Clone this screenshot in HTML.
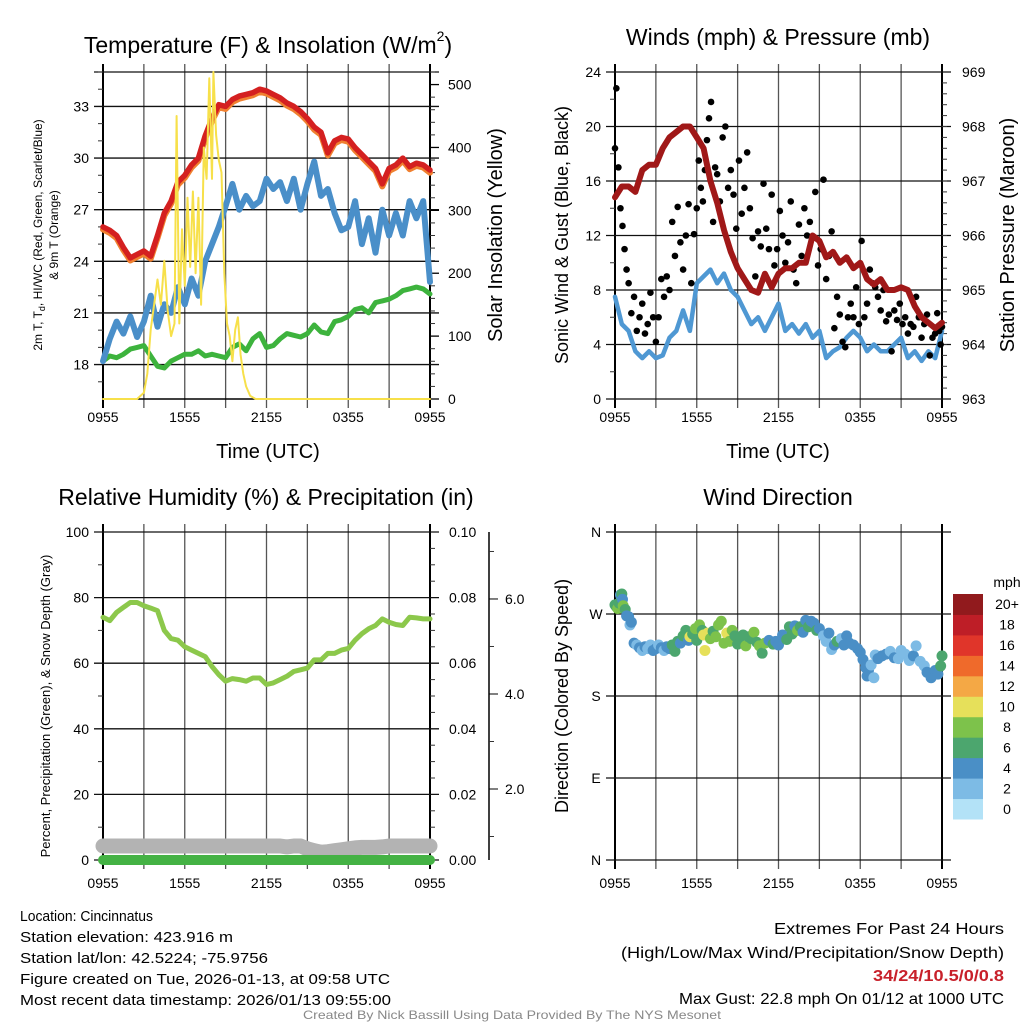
<!DOCTYPE html>
<html><head><meta charset="utf-8"><style>
html,body{margin:0;padding:0;background:#fff;}
svg{display:block;font-family:"Liberation Sans",sans-serif;}
</style></head><body>
<svg id="c" width="1024" height="1024" viewBox="0 0 1024 1024" xmlns="http://www.w3.org/2000/svg"></svg>
<script>
// ---------- DATA ----------
const hours = [0,0.5,1,1.5,2,2.5,3,3.5,4,4.5,5,5.5,6,6.5,7,7.5,8,8.5,9,9.5,10,10.5,11,11.5,12,12.5,13,13.5,14,14.5,15,15.5,16,16.5,17,17.5,18,18.5,19,19.5,20,20.5,21,21.5,22,22.5,23,23.5,24];
const tempRed = [26.0,25.8,25.5,24.8,24.2,24.4,24.6,24.3,25.5,26.8,27.5,28.6,29.0,29.6,30.0,31.3,32.3,33.1,33.0,33.4,33.6,33.7,33.8,34.0,33.9,33.7,33.5,33.2,33.0,32.7,32.3,31.8,31.5,30.3,31.0,31.2,31.1,30.6,30.2,29.8,29.4,28.5,29.4,29.6,30.0,29.5,29.7,29.6,29.3];
const tempBlue = [18.2,19.5,20.5,19.8,20.8,19.6,20.5,22.0,20.2,21.5,21.0,22.5,21.5,23.0,22.0,24.0,25.0,26.0,27.2,28.5,27.0,27.8,27.2,27.5,28.8,28.2,28.6,27.5,28.8,27.0,28.5,29.8,27.8,28.2,26.8,25.8,26.0,27.5,25.0,26.5,24.5,27.0,25.5,26.8,25.5,27.5,26.5,27.5,22.8];
const dewGreen = [18.2,18.5,18.4,18.6,18.9,19.0,19.1,18.5,17.9,17.8,18.2,18.4,18.6,18.6,18.8,18.5,18.6,18.5,18.4,19.0,19.2,18.8,19.5,19.8,19.0,19.1,19.5,19.8,19.7,19.6,19.8,20.3,19.9,19.8,20.5,20.6,20.8,21.2,21.3,21.0,21.6,21.7,21.8,22.0,22.3,22.4,22.5,22.4,22.1];
const solarTimes = [0,2.5,3.0,3.25,3.5,3.75,4.0,4.25,4.5,4.75,5.0,5.25,5.4,5.6,5.8,6.0,6.2,6.4,6.6,6.8,7.0,7.2,7.4,7.6,7.8,8.0,8.1,8.3,8.5,8.7,8.9,9.1,9.3,9.5,9.7,9.9,10.1,10.3,10.5,10.8,11.2,24];
const solarVals = [0,0,10,40,110,150,190,150,220,140,100,120,450,120,270,180,320,210,330,200,320,150,400,350,510,350,520,420,380,360,200,120,100,60,110,130,70,40,20,5,0,0];
const pressure = [966.7,966.9,966.9,966.8,967.2,967.3,967.3,967.6,967.8,967.9,968.0,968.0,967.8,967.6,967.0,966.6,966.1,965.7,965.4,965.2,965.0,964.95,965.3,965.05,965.3,965.4,965.4,965.5,965.5,966.0,965.9,965.6,965.7,965.5,965.6,965.4,965.5,965.2,965.1,965.2,965.0,965.0,965.05,965.0,964.7,964.5,964.4,964.3,964.4];
const sonicWind = [7.5,5.5,5.0,3.5,3.0,3.5,3.0,3.2,4.5,5.0,6.5,5.0,8.5,9.0,9.5,8.5,9.2,8.0,7.5,6.5,5.5,6.0,5.0,6.0,7.0,5.0,5.5,4.8,5.5,4.5,5.0,3.0,3.5,3.8,4.5,5.0,4.5,3.5,4.0,3.5,3.5,4.0,4.5,3.0,3.5,2.8,3.5,3.0,5.0];
const gustT = [0,0.1,0.25,0.4,0.55,0.7,0.85,1.0,1.2,1.4,1.6,1.8,2.0,2.2,2.4,2.6,2.8,3.0,3.2,3.4,3.6,3.8,4.0,4.2,4.4,4.6,4.8,5.0,5.2,5.4,5.6,5.8,6.0,6.15,6.3,6.45,6.6,6.75,6.9,7.05,7.2,7.35,7.5,7.7,7.9,8.1,8.3,8.5,8.7,8.9,9.1,9.3,9.5,9.7,9.9,10.1,10.3,10.5,10.7,10.9,11.1,11.3,11.5,11.7,11.9,12.1,12.3,12.5,12.7,12.9,13.1,13.3,13.5,13.7,13.9,14.1,14.3,14.5,14.7,14.9,15.1,15.3,15.5,15.7,15.9,16.1,16.3,16.5,16.7,16.9,17.1,17.3,17.5,17.7,17.9,18.1,18.3,18.5,18.7,18.9,19.1,19.3,19.5,19.7,19.9,20.1,20.3,20.5,20.7,20.9,21.1,21.3,21.5,21.7,21.9,22.1,22.3,22.5,22.7,22.9,23.1,23.3,23.5,23.65,23.8,23.9,24.0];
const gustV = [18.4,22.8,17.0,14.0,12.7,11.0,9.5,8.5,6.3,7.5,5.0,6.0,7.0,4.8,5.5,7.8,6.0,4.2,6.0,8.8,7.5,9.0,8.0,13.0,10.5,14.1,11.5,9.5,12.0,14.3,8.5,12.1,14.0,17.5,15.5,14.5,16.8,19.0,20.6,21.8,13.0,17.0,16.5,14.5,19.2,20.0,15.5,16.8,15.0,12.5,17.5,13.6,15.5,18.1,14.0,11.8,9.0,12.3,11.2,15.8,12.5,11.0,15.0,9.8,11.0,13.8,12.0,10.0,11.5,14.5,9.5,8.5,12.8,10.5,14.0,12.0,13.0,11.8,15.2,9.8,11.0,16.1,8.8,10.5,12.3,5.2,7.5,6.2,4.2,3.8,6.0,7.0,6.0,8.2,5.5,11.6,6.0,7.0,9.5,8.5,8.2,7.5,6.5,8.0,5.7,6.2,3.5,6.5,5.8,7.0,5.5,6.0,4.8,5.5,5.3,7.5,6.0,4.5,5.5,6.2,3.2,4.5,4.8,6.3,5.0,4.0,5.3,6.5,7.8,8.5,10.7,9.5,10.5];
const rhVals = [74,73,75.5,77,78.5,78.5,77.5,76.8,76,70,67.5,67,65,64,63,62,59,56.5,54.5,55.3,55,54.5,55.5,55.5,53.5,54,55,56,57.5,58,58.5,61,61,63,63,64,64.5,67,69,70.5,71.5,73.5,72.5,71.8,71.5,74,73.8,73.5,73.5];
const snowDepth = [0.8,0.8,0.8,0.8,0.8,0.8,0.8,0.8,0.8,0.8,0.8,0.8,0.8,0.8,0.8,0.8,0.8,0.8,0.8,0.8,0.8,0.8,0.8,0.8,0.8,0.8,0.8,0.78,0.8,0.8,0.74,0.7,0.67,0.68,0.7,0.72,0.74,0.76,0.77,0.77,0.77,0.78,0.8,0.8,0.8,0.8,0.8,0.8,0.8];
const precip = [0,0,0,0,0,0,0,0,0,0,0,0,0,0,0,0,0,0,0,0,0,0,0,0,0,0,0,0,0,0,0,0,0,0,0,0,0,0,0,0,0,0,0,0,0,0,0,0,0];
const dirTimes = [0.0,0.1,0.2,0.3,0.4,0.5,0.55,0.6,0.75,0.85,1.0,1.1,1.2,1.4,1.6,1.8,2.0,2.2,2.4,2.6,2.8,3.0,3.2,3.4,3.6,3.8,4.0,4.2,4.4,4.6,4.8,5.0,5.2,5.4,5.5,5.7,5.9,6.0,6.2,6.4,6.5,6.6,6.8,7.0,7.2,7.4,7.6,7.8,8.0,8.2,8.4,8.6,8.8,9.0,9.2,9.4,9.6,9.8,10.0,10.2,10.4,10.6,10.8,11.0,11.3,11.6,11.8,12.0,12.3,12.6,12.8,13.0,13.2,13.4,13.6,13.8,14.0,14.2,14.4,14.6,14.8,15.0,15.3,15.5,15.7,15.9,16.1,16.3,16.6,16.8,17.0,17.2,17.5,17.8,18.0,18.2,18.4,18.5,18.6,18.8,19.0,19.1,19.3,19.6,19.9,20.2,20.5,20.8,21.0,21.3,21.6,21.9,22.1,22.4,22.7,22.9,23.2,23.5,23.7,23.9,24.0];
const dirVals = [280,278,276,282,291,292,286,279,275,268,267,258,261,238,236,233,230,234,232,236,230,232,236,233,230,234,232,236,229,240,238,246,252,241,245,248,254,241,258,252,247,230,249,243,251,245,258,262,238,249,240,252,246,237,245,247,235,245,243,250,239,235,227,238,241,237,240,236,247,242,256,248,257,252,256,250,263,256,262,260,252,254,246,240,249,231,236,240,243,236,246,238,236,232,228,220,211,202,208,214,200,225,221,224,226,229,222,221,230,226,219,224,235,218,213,206,200,208,204,213,224];
const dirSpeeds = [6,7,8,6,4,6,4,8,6,4,4,2,4,4,2,4,2,4,2,2,4,4,2,4,2,4,4,6,6,6,4,6,6,4,10,6,8,6,8,6,10,10,10,8,6,8,8,8,8,10,8,8,6,6,6,6,8,6,6,8,6,8,6,8,4,6,4,4,4,6,6,6,4,8,6,4,4,6,4,4,6,4,2,2,4,2,4,6,2,4,4,4,4,4,4,4,4,4,4,2,2,2,4,4,4,2,4,2,2,2,2,4,2,2,2,4,4,4,4,6,6];
const tempTicks = [18,21,24,27,30,33];
const solarTicks = [0,100,200,300,400,500];
const windTicks = [0,4,8,12,16,20,24];
const presTicks = [963,964,965,966,967,968,969];
const rhTicks = [0,20,40,60,80,100];
const precipTicks = ["0.00","0.02","0.04","0.06","0.08","0.10"];
const snowTicks = ["2.0","4.0","6.0"];
const dirLabels = ["N","E","S","W","N"];
const timeLabels = ["0955","1555","2155","0355","0955"];
const cbLabels = ["0","2","4","6","8","10","12","14","16","18","20+"];
const cbColors = ["#b3e2f7","#7dbbe5","#4a8fc6","#4ca66e","#7dc24b","#e6e05a","#f4a845","#ef6a2b","#e0352a","#be1e27","#911a1d"];
</script>
<script>
const S = document.getElementById('c');
const NS = 'http://www.w3.org/2000/svg';
function el(tag, a, parent){ const e=document.createElementNS(NS,tag); for(const k in a) e.setAttribute(k,a[k]); (parent||S).appendChild(e); return e; }
function txt(s, x, y, size, anchor, extra){ const t=el('text',Object.assign({x:x,y:y,'font-size':size,'text-anchor':anchor||'middle',fill:'#000'},extra||{})); t.textContent=s; return t; }
function lin(a,b,c,d){ return v=>c+(v-a)/(b-a)*(d-c); }

function frame(x0,x1,y0,y1,name){
  const g=el('g',{});
  
  
  for(let i=0;i<=8;i++){
    const x=x0+i*(x1-x0)/8;
    const l=el('line',{x1:x,x2:x,y1:y0-8,y2:y1+9,stroke:(i==0||i==8)?'#000':'#555','stroke-width':(i==0||i==8)?2:1.3},g);
    
    
  }
  return g;
}
function hgrid(g,y,x0,x1){
  const l=el('line',{x1:x0-9,x2:x1+9,y1:y,y2:y,stroke:'#111','stroke-width':1.3},g);
  
  
}
function timeAxis(x0,x1,y){
  const xs=lin(0,24,x0,x1);
  timeLabels.forEach((s,i)=>{ const t=txt(s,xs(i*6),y,14);
    
     });
}
function poly(pts,color,w,name,parent){
  const p=el('polyline',{points:pts.map(p=>p[0].toFixed(1)+','+p[1].toFixed(1)).join(' '),fill:'none',stroke:color,'stroke-width':w,'stroke-linejoin':'round','stroke-linecap':'round'},parent);
  
  
  return p;
}

// ===== Panel 1 =====
(function(){
  const x0=103,x1=430,y0=72,y1=399;
  const xs=lin(0,24,x0,x1), yt=lin(16,35,y1,y0), ys=lin(0,520,y1,y0);
  const g=frame(x0,x1,y0,y1,'temperature');
  hgrid(g,y0,x0,x1);
  tempTicks.forEach(v=>{ hgrid(g,yt(v),x0,x1); const t=txt(String(v),x0-14,yt(v)+5,14,'end');
    
     });
  for(let v=17;v<=35;v++){ if(v%3) el('line',{x1:x0-5,x2:x0,y1:yt(v),y2:yt(v),stroke:'#333'}); }
  solarTicks.forEach(v=>{ el('line',{x1:x1,x2:x1+9,y1:ys(v),y2:ys(v),stroke:'#000','stroke-width':1.3}); const t=txt(String(v),x1+18,ys(v)+5,14,'start');
    
     });
  for(let v=20;v<=520;v+=20){ if(v%100) el('line',{x1:x1,x2:x1+5,y1:ys(v),y2:ys(v),stroke:'#333'}); }
  el('line',{x1:x0,x2:x1,y1:y1,y2:y1,stroke:'#000','stroke-width':1.5});
  poly(hours.map((h,i)=>[xs(h),yt(dewGreen[i])]),'#3db33d',5,'dewpoint-line');
  poly(hours.map((h,i)=>[xs(h),yt(tempBlue[i])]),'#4a8fc9',6,'heat-index-wind-chill-line');
  poly(hours.map((h,i)=>[xs(h),yt(tempRed[i]-0.15)]),'#f08030',6,'9m-temperature-line');
  poly(hours.map((h,i)=>[xs(h),yt(tempRed[i])]),'#d42020',5.5,'2m-temperature-line');
  poly(solarTimes.map((h,i)=>[xs(h),ys(solarVals[i])]),'#f7e04a',2,'solar-insolation-line');
  timeAxis(x0,x1,422);
  const tt0=el('text',{x:268,y:53,'font-size':23,'text-anchor':'middle'});
  tt0.innerHTML='Temperature (F) &amp; Insolation (W/m<tspan font-size="14" dy="-12">2</tspan><tspan dy="12">)</tspan>';
  
  
  let t=txt('Time (UTC)',268,458,20);  
  const tt=el('text',{transform:'translate(42,235) rotate(-90)','font-size':12,'text-anchor':'middle'});
  tt.innerHTML='2m T, T<tspan font-size="9" dy="3">d</tspan><tspan dy="-3">, HI/WC (Red, Green, Scarlet/Blue)</tspan>';
  
  
  t=txt('& 9m T (Orange)',0,0,12,'middle',{transform:'translate(58,235) rotate(-90)'});  
  t=txt('Solar Insolation (Yellow)',0,0,20,'middle',{transform:'translate(502,235) rotate(-90)'});  
})();

// ===== Panel 2 =====
(function(){
  const x0=615,x1=942,y0=72,y1=399;
  const xs=lin(0,24,x0,x1), yw=lin(0,24,y1,y0), yp=lin(963,969,y1,y0);
  const g=frame(x0,x1,y0,y1,'wind');
  windTicks.forEach(v=>{ hgrid(g,yw(v),x0,x1); const t=txt(String(v),x0-14,yw(v)+5,14,'end');
    
     });
  for(let v=2;v<24;v+=4) el('line',{x1:x0-5,x2:x0,y1:yw(v),y2:yw(v),stroke:'#333'});
  presTicks.forEach(v=>{ const t=txt(String(v),x1+20,yp(v)+5,14,'start');
    
     });
  for(let v=963.2;v<969;v+=0.2) el('line',{x1:x1,x2:x1+5,y1:yp(v),y2:yp(v),stroke:'#333'});
  poly(hours.map((h,i)=>[xs(h),yw(sonicWind[i])]),'#4f98d3',4.5,'sonic-wind-line');
  gustT.forEach((h,i)=>{ if(gustV[i]===undefined) return; const c=el('circle',{cx:xs(h),cy:yw(gustV[i]),r:3.3,fill:'#000'});
    
     });
  poly(hours.map((h,i)=>[xs(h),yp(pressure[i])]),'#a01818',6,'station-pressure-line');
  timeAxis(x0,x1,422);
  let t=txt('Winds (mph) & Pressure (mb)',778,45,23);  
  t=txt('Time (UTC)',778,458,20);  
  t=txt('Sonic Wind & Gust (Blue, Black)',0,0,18,'middle',{transform:'translate(568,235) rotate(-90)'});  
  t=txt('Station Pressure (Maroon)',0,0,20,'middle',{transform:'translate(1014,235) rotate(-90)'});  
})();

// ===== Panel 3 =====
(function(){
  const x0=103,x1=430,y0=532,y1=860;
  const xs=lin(0,24,x0,x1), yr=lin(0,100,y1,y0), ysn=lin(0,7.41,884,532);
  const g=frame(x0,x1,y0,y1,'humidity');
  rhTicks.forEach((v,i)=>{ hgrid(g,yr(v),x0,x1); let t=txt(String(v),x0-14,yr(v)+5,14,'end');
    
    
    t=txt(precipTicks[i],x1+19,yr(v)+5,14,'start');
    
     });
  for(let v=10;v<100;v+=20) el('line',{x1:x0-5,x2:x0,y1:yr(v),y2:yr(v),stroke:'#333'});
  for(let v=5;v<100;v+=5) if(v%20) el('line',{x1:x1,x2:x1+5,y1:yr(v),y2:yr(v),stroke:'#333'});
  const ax=el('line',{x1:489,x2:489,y1:532,y2:860,stroke:'#000','stroke-width':1.5});
  
  
  snowTicks.forEach(s=>{ const v=parseFloat(s); el('line',{x1:489,x2:498,y1:ysn(v),y2:ysn(v),stroke:'#000'}); const t=txt(s,505,ysn(v)+5,14,'start');
    
     });
  for(let v=1;v<7.4;v+=2) el('line',{x1:489,x2:494,y1:ysn(v),y2:ysn(v),stroke:'#333'});
  poly(hours.map((h,i)=>[xs(h),ysn(snowDepth[i])]),'#b3b3b3',15,'snow-depth-line');
  poly(hours.map((h,i)=>[xs(h),yr(precip[i]*1000)]),'#44b244',10,'precipitation-line');
  poly(hours.map((h,i)=>[xs(h),yr(rhVals[i])]),'#8cc84b',5,'relative-humidity-line');
  timeAxis(x0,x1,888);
  let t=txt('Relative Humidity (%) & Precipitation (in)',266,505,23);  
  t=txt('Percent, Precipitation (Green), & Snow Depth (Gray)',0,0,13,'middle',{transform:'translate(50,706) rotate(-90)'});  
})();

// ===== Panel 4 =====
(function(){
  const x0=615,x1=942,y0=532,y1=860;
  const xs=lin(0,24,x0,x1), yd=lin(0,360,y1,y0);
  const g=frame(x0,x1,y0,y1,'direction');
  dirLabels.forEach((s,i)=>{ hgrid(g,yd(i*90),x0,x1); const t=txt(s,x0-19,yd(i*90)+5,14,'middle');
    
     });
  dirTimes.forEach((h,i)=>{ const b=Math.min(10,Math.floor(dirSpeeds[i]/2)); const c=el('circle',{cx:xs(h),cy:yd(dirVals[i]),r:5.5,fill:cbColors[b]});
    
     });
  timeAxis(x0,x1,888);
  let t=txt('Wind Direction',778,505,23);  
  t=txt('Direction (Colored By Speed)',0,0,18,'middle',{transform:'translate(568,696) rotate(-90)'});  
  const cb=el('g',{});
  
  
  const bh=(819-594)/11;
  cbColors.forEach((c,i)=>{ const r=el('rect',{x:953,y:819-(i+1)*bh,width:30,height:bh+0.5,fill:c},cb);
    
    
    const t=txt(cbLabels[i],1007,819-(i+0.5)*bh+5,14,'middle');
    
     });
  t=txt('mph',1007,587,14);  
})();

// ===== Footer text =====
(function(){
  const L=[["Location: Cincinnatus",133],["Station elevation: 423.916 m",213],["Station lat/lon: 42.5224; -75.9756",248],["Figure created on Tue, 2026-01-13, at 09:58 UTC",370],["Most recent data timestamp: 2026/01/13 09:55:00",371]];
  L.forEach((a,i)=>{ const t=txt(a[0],20,921+i*21,15,'start',{textLength:a[1],lengthAdjust:'spacingAndGlyphs'});
    
     });
  let t=txt('Extremes For Past 24 Hours',1004,934,16,'end',{textLength:230,lengthAdjust:'spacingAndGlyphs'});  
  t=txt('(High/Low/Max Wind/Precipitation/Snow Depth)',1004,958,16,'end',{textLength:383,lengthAdjust:'spacingAndGlyphs'});  
  t=txt('34/24/10.5/0/0.8',1004,981,16,'end',{textLength:131,lengthAdjust:'spacingAndGlyphs',fill:'#c8202a','font-weight':'bold'});  
  t=txt('Max Gust: 22.8 mph On 01/12 at 1000 UTC',1004,1004,16,'end',{textLength:325,lengthAdjust:'spacingAndGlyphs'});  
  t=txt('Created By Nick Bassill Using Data Provided By The NYS Mesonet',512,1019,12,'middle',{textLength:418,lengthAdjust:'spacingAndGlyphs',fill:'#888'});  
})();
</script>
</body></html>
